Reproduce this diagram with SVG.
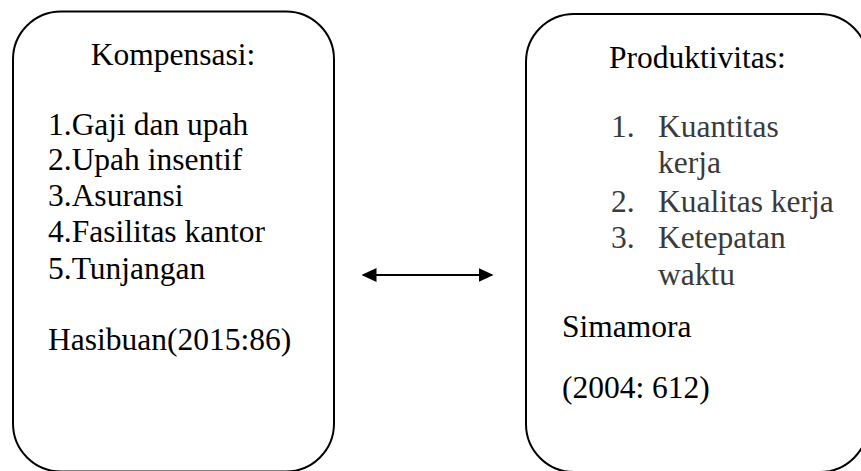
<svg xmlns="http://www.w3.org/2000/svg" width="861" height="471" viewBox="0 0 861 471">
<style>
.box{fill:#fff;stroke:#000;stroke-width:2}
.t{font-family:"Liberation Serif","Times New Roman",serif;font-size:31.5px;fill:#000}
.g{fill:#3a3a3a}
</style>
<defs>
<marker id="ah" viewBox="0 0 10 10" refX="9" refY="5" markerWidth="15" markerHeight="14" markerUnits="userSpaceOnUse" orient="auto-start-reverse" preserveAspectRatio="none">
<path d="M0,0 L10,5 L0,10 z" fill="#000"/>
</marker>
</defs>
<rect width="861" height="471" fill="#fff"/>
<g id="kompensasi">
<rect class="box" x="13" y="11.5" width="321" height="460" rx="48" ry="48"/>
<text class="t" x="173" y="65" text-anchor="middle">Kompensasi:</text>
<text class="t" x="48" y="134.5">1.Gaji dan upah</text>
<text class="t" x="48" y="170">2.Upah insentif</text>
<text class="t" x="48" y="206">3.Asuransi</text>
<text class="t" x="48" y="242">4.Fasilitas kantor</text>
<text class="t" x="48" y="278.5">5.Tunjangan</text>
<text class="t" x="48" y="350">Hasibuan(2015:86)</text>
</g>
<g id="produktivitas">
<rect class="box" x="526" y="14" width="342" height="458" rx="48" ry="48"/>
<text class="t" x="609" y="68">Produktivitas:</text>
<text class="t g" x="611" y="137">1.</text>
<text class="t g" x="658" y="137">Kuantitas</text>
<text class="t g" x="658" y="173">kerja</text>
<text class="t g" x="611" y="212">2.</text>
<text class="t g" x="658" y="212">Kualitas kerja</text>
<text class="t g" x="611" y="248">3.</text>
<text class="t g" x="658" y="248">Ketepatan</text>
<text class="t g" x="658" y="285">waktu</text>
<text class="t" x="562" y="337">Simamora</text>
<text class="t" x="562" y="398">(2004: 612)</text>
</g>
<g id="connectors">
<line x1="363" y1="275" x2="492" y2="275" stroke="#000" stroke-width="2" marker-start="url(#ah)" marker-end="url(#ah)"/>
</g>
</svg>
